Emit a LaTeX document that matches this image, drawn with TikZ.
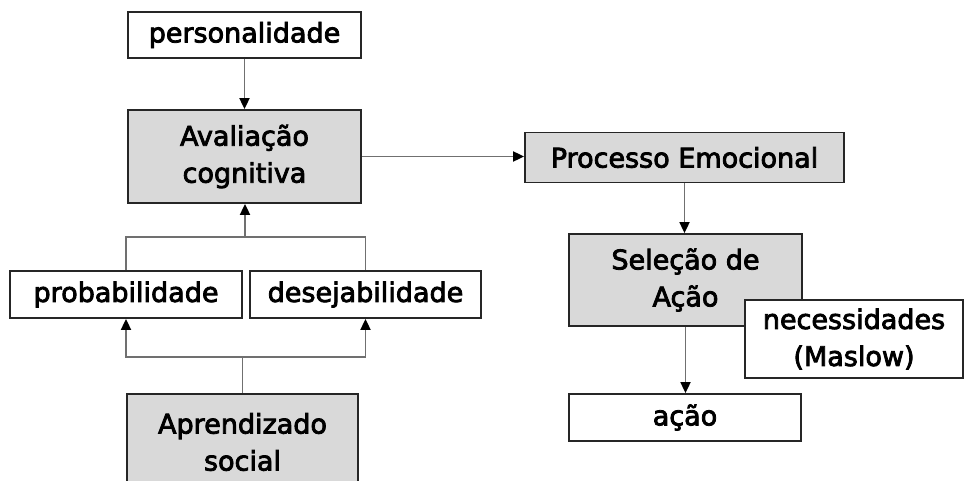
\documentclass[tikz,border=0pt]{standalone}
\usepackage{fontspec}
\setmainfont{DejaVu Sans}
\newfontfamily\boxfont[FakeBold=3]{DejaVu Sans}
\usetikzlibrary{arrows.meta,calc}
\definecolor{boxgray}{HTML}{D9D9D9}
\definecolor{linegray}{HTML}{707070}
\tikzset{
  box/.style={draw=black!85, line width=1.8pt, inner sep=0pt, align=center,
    font=\boxfont\fontsize{27}{37}\selectfont, fill=white},
  graybox/.style={box, fill=boxgray},
  conn/.style={draw=linegray, line width=1.8pt},
  arr/.style={conn, -{Triangle[black,length=11pt,width=10pt]}}
}
\begin{document}
\begin{tikzpicture}[x=1pt,y=-1pt]
\useasboundingbox (0,0) rectangle (965,481);
\node[box, minimum width=233pt, minimum height=46pt] (pers) at (244.5,35) {personalidade};
\node[graybox, minimum width=233pt, minimum height=93pt] (aval) at (244.5,156.5) {Avaliação\\cognitiva};
\node[graybox, minimum width=319pt, minimum height=50pt] (proc) at (684.5,157.5) {Processo Emocional};
\node[graybox, minimum width=233pt, minimum height=92pt] (sel) at (685.5,280) {Seleção de\\Ação};
\node[box, minimum width=218pt, minimum height=78pt] (nec) at (854,339) {necessidades\\(Maslow)};
\node[box, minimum width=232pt, minimum height=47pt] (acao) at (685,417.5) {ação};
\node[box, minimum width=232pt, minimum height=47pt] (prob) at (126,294.5) {probabilidade};
\node[box, minimum width=231pt, minimum height=47pt] (des) at (365.5,294.5) {desejabilidade};
\node[graybox, minimum width=231pt, minimum height=96pt] (apr) at (242.5,442) {Aprendizado\\social};
\coordinate (j1) at (245,237);
\coordinate (j2) at (242.5,357);
\draw[arr] (pers.south) -- (aval.north);
\draw[arr] (aval.east) -- (aval.east -| proc.west);
\draw[arr] (proc.south) -- (proc.south |- sel.north);
\draw[arr] (sel.south) -- (sel.south |- acao.north);
\draw[conn] (prob.north) |- (j1) -| (des.north);
\draw[arr] (j1) -- (j1 |- aval.south);
\draw[arr] (j2) -| (prob.south);
\draw[arr] (j2) -| (des.south);
\draw[conn] (apr.north) -- (j2);
\end{tikzpicture}
\end{document}
